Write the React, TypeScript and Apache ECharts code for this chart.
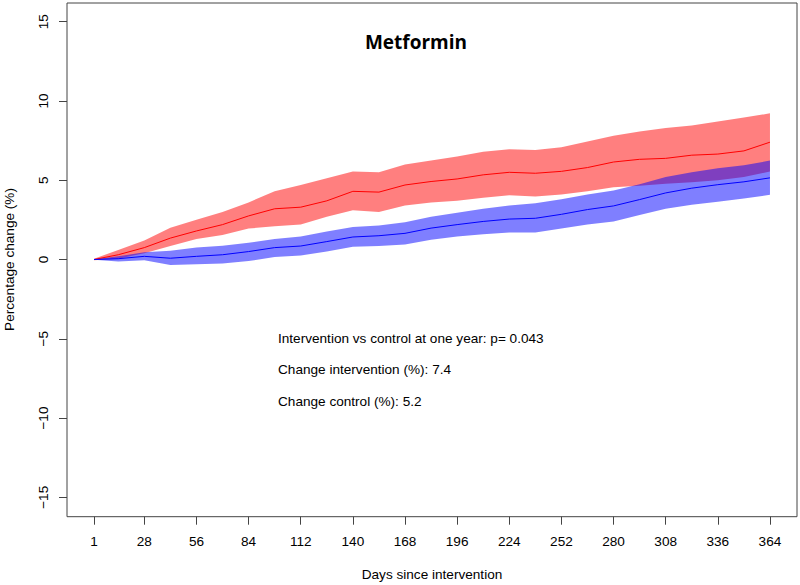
import React, { useEffect, useRef } from "react";
import * as echarts from "echarts";

const days = [1, 14, 28, 42, 56, 70, 84, 98, 112, 126, 140, 154, 168, 182, 196, 210, 224, 238, 252, 266, 280, 294, 308, 322, 336, 350, 364];

const interventionMean = [0, 0.3, 0.75, 1.35, 1.8, 2.2, 2.75, 3.2, 3.3, 3.7, 4.3, 4.25, 4.7, 4.92, 5.08, 5.34, 5.5, 5.44, 5.56, 5.8, 6.15, 6.32, 6.38, 6.58, 6.65, 6.85, 7.4];
const interventionUpper = [0.05, 0.6, 1.2, 2.0, 2.5, 3.0, 3.6, 4.3, 4.7, 5.13, 5.55, 5.5, 6.0, 6.25, 6.5, 6.8, 6.95, 6.91, 7.08, 7.45, 7.8, 8.07, 8.3, 8.45, 8.7, 8.95, 9.22];
const interventionLower = [-0.05, 0.05, 0.4, 0.85, 1.3, 1.55, 1.95, 2.1, 2.2, 2.7, 3.1, 3.0, 3.4, 3.6, 3.7, 3.9, 4.05, 3.97, 4.1, 4.3, 4.55, 4.65, 4.78, 4.88, 5.0, 5.2, 5.55];

const controlMean = [0, 0.05, 0.2, 0.08, 0.2, 0.3, 0.5, 0.75, 0.85, 1.13, 1.42, 1.5, 1.65, 1.98, 2.2, 2.4, 2.55, 2.6, 2.85, 3.15, 3.38, 3.78, 4.2, 4.5, 4.72, 4.9, 5.15];
const controlUpper = [0.02, 0.2, 0.45, 0.55, 0.75, 0.86, 1.05, 1.3, 1.45, 1.76, 2.05, 2.15, 2.35, 2.7, 2.95, 3.2, 3.4, 3.55, 3.8, 4.1, 4.35, 4.75, 5.2, 5.5, 5.75, 5.95, 6.24];
const controlLower = [-0.02, -0.12, -0.05, -0.35, -0.3, -0.25, -0.1, 0.15, 0.25, 0.5, 0.8, 0.85, 0.95, 1.25, 1.45, 1.6, 1.7, 1.7, 1.95, 2.2, 2.4, 2.8, 3.2, 3.45, 3.65, 3.85, 4.08];

const xTicks = [1, 28, 56, 84, 112, 140, 168, 196, 224, 252, 280, 308, 336, 364];
const yMin = -15;
const yMax = 15;
const yStep = 5;

const titleText = "Metformin";
const xAxisTitle = "Days since intervention";
const yAxisTitle = "Percentage change (%)";
const notes = [
  "Intervention vs control at one year: p= 0.043",
  "Change intervention (%): 7.4",
  "Change control (%): 5.2",
];

const FONT = "'Liberation Sans', Arial, sans-serif";

function pairs(xs: number[], ys: number[]) {
  return xs.map((x, i) => [x, ys[i]]);
}

function bandSeries(name: string, lower: number[], upper: number[], color: string, z: number) {
  return {
    name: name + "-band",
    type: "custom",
    data: days.map((d, i) => [d, lower[i], upper[i]]),
    encode: { x: 0, y: [1, 2] },
    silent: true,
    z,
    renderItem: (params: any, api: any) => {
      if (params.dataIndex !== 0) return null;
      const top = days.map((d, i) => api.coord([d, upper[i]]));
      const bottom = days.map((d, i) => api.coord([d, lower[i]])).reverse();
      return {
        type: "polygon",
        shape: { points: top.concat(bottom) },
        style: { fill: color, stroke: "none" },
      };
    },
  };
}

// plot frame (R box) and grid placement
const BOX = { left: 67, top: 3, right: 797, bottom: 516.7 };
const GRID_TOP = 21.7;
const GRID_BOTTOM_Y = 497.3;

export default function App() {
  const ref = useRef<HTMLDivElement>(null);
  useEffect(() => {
    if (!ref.current) return;
    const chart = echarts.init(ref.current, undefined, { renderer: "svg" });
    const axisLabelStyle = { color: "#000", fontSize: 13.6, fontFamily: FONT };
    const axisLine = { show: false, onZero: false };
    chart.setOption({
      animation: false,
      backgroundColor: "#fff",
      textStyle: { fontFamily: FONT },
      grid: {
        left: BOX.left,
        right: 800 - BOX.right,
        top: GRID_TOP,
        bottom: 585 - GRID_BOTTOM_Y,
        show: false,
        outerBoundsMode: "none",
      },
      xAxis: {
        type: "value",
        min: -13.52,
        max: 378.52,
        offset: BOX.bottom - GRID_BOTTOM_Y,
        name: xAxisTitle,
        nameLocation: "middle",
        nameGap: 51,
        nameTextStyle: { ...axisLabelStyle },
        axisLine,
        splitLine: { show: false },
        axisTick: { show: true, inside: false, length: 8, lineStyle: { color: "#444" }, customValues: xTicks },
        axisLabel: { ...axisLabelStyle, margin: 18, customValues: xTicks, formatter: (v: number) => String(v) },
      },
      yAxis: {
        type: "value",
        min: yMin,
        max: yMax,
        interval: yStep,
        name: yAxisTitle,
        nameLocation: "middle",
        nameGap: 51,
        nameTextStyle: { ...axisLabelStyle },
        axisLine,
        splitLine: { show: false },
        axisTick: { show: true, inside: false, length: 8, lineStyle: { color: "#444" } },
        axisLabel: {
          ...axisLabelStyle,
          rotate: 90,
          margin: 17,
          showMinLabel: true,
          showMaxLabel: true,
          formatter: (v: number) => (v < 0 ? "\u2212" + Math.abs(v) : String(v)),
        },
      },
      series: [
        bandSeries("intervention", interventionLower, interventionUpper, "rgba(255,0,0,0.5)", 1),
        bandSeries("control", controlLower, controlUpper, "rgba(0,0,255,0.5)", 2),
        {
          name: "intervention",
          type: "line",
          data: pairs(days, interventionMean),
          showSymbol: false,
          symbol: "none",
          lineStyle: { color: "#ff0000", width: 1 },
          z: 3,
        },
        {
          name: "control",
          type: "line",
          data: pairs(days, controlMean),
          showSymbol: false,
          symbol: "none",
          lineStyle: { color: "#0000ff", width: 1 },
          z: 3,
        },
      ],
      graphic: [
        {
          type: "rect",
          shape: {
            x: BOX.left,
            y: BOX.top,
            width: BOX.right - BOX.left,
            height: BOX.bottom - BOX.top,
          },
          style: { fill: "none", stroke: "#444", lineWidth: 1 },
          silent: true,
          z: 10,
        },
        {
          type: "text",
          x: 416,
          y: 42,
          style: {
            text: titleText,
            fontSize: 19,
            fontWeight: "bold",
            fontFamily: "'Open Sans', sans-serif",
            fill: "#000",
            textAlign: "center",
            textVerticalAlign: "middle",
          },
        },
        ...notes.map((t, i) => ({
          type: "text",
          x: 278,
          y: 338 + i * 31.6,
          style: {
            text: t,
            fontSize: 13.6,
            fontFamily: FONT,
            fill: "#000",
            textAlign: "left",
            textVerticalAlign: "middle",
          },
        })),
      ],
    });
    return () => chart.dispose();
  }, []);
  return (
    <div
      ref={ref}
      style={{ position: "fixed", left: 0, top: 0, width: 800, height: 585, background: "#fff" }}
    />
  );
}
